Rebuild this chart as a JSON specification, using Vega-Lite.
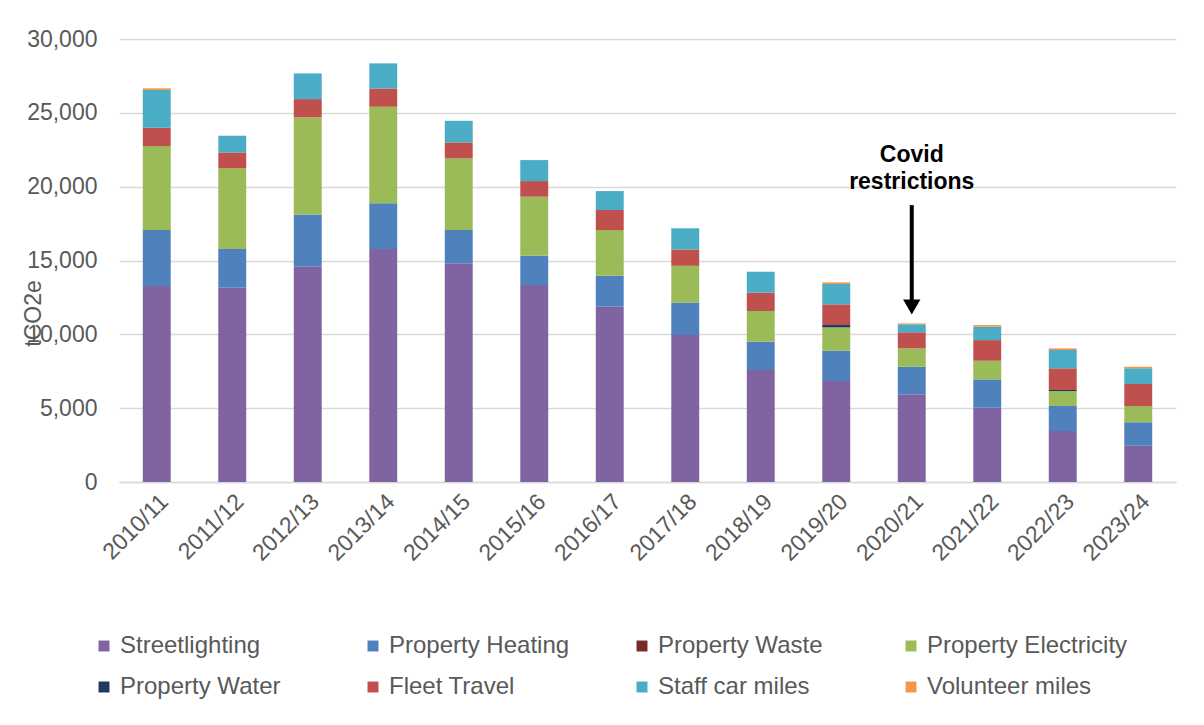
{
  "$schema": "https://vega.github.io/schema/vega-lite/v6.json",
  "width": 1057,
  "height": 443,
  "autosize": {"type": "none"},
  "padding": {"left": 119, "top": 39, "right": 28, "bottom": 243},
  "background": "white",
  "config": {
    "font": "Liberation Sans",
    "view": {"stroke": null}
  },
  "datasets": {
    "emissions": [
      {"year": "2010/11", "source": "Streetlighting", "t": 13270},
      {"year": "2010/11", "source": "Property Heating", "t": 3790},
      {"year": "2010/11", "source": "Property Electricity", "t": 5690},
      {"year": "2010/11", "source": "Fleet Travel", "t": 1240},
      {"year": "2010/11", "source": "Staff car miles", "t": 2550},
      {"year": "2010/11", "source": "Volunteer miles", "t": 120},
      {"year": "2011/12", "source": "Streetlighting", "t": 13160},
      {"year": "2011/12", "source": "Property Heating", "t": 2620},
      {"year": "2011/12", "source": "Property Electricity", "t": 5460},
      {"year": "2011/12", "source": "Fleet Travel", "t": 1080},
      {"year": "2011/12", "source": "Staff car miles", "t": 1130},
      {"year": "2012/13", "source": "Streetlighting", "t": 14580},
      {"year": "2012/13", "source": "Property Heating", "t": 3540},
      {"year": "2012/13", "source": "Property Electricity", "t": 6570},
      {"year": "2012/13", "source": "Fleet Travel", "t": 1240},
      {"year": "2012/13", "source": "Staff car miles", "t": 1740},
      {"year": "2013/14", "source": "Streetlighting", "t": 15780},
      {"year": "2013/14", "source": "Property Heating", "t": 3090},
      {"year": "2013/14", "source": "Property Electricity", "t": 6540},
      {"year": "2013/14", "source": "Fleet Travel", "t": 1240},
      {"year": "2013/14", "source": "Staff car miles", "t": 1700},
      {"year": "2014/15", "source": "Streetlighting", "t": 14810},
      {"year": "2014/15", "source": "Property Heating", "t": 2250},
      {"year": "2014/15", "source": "Property Electricity", "t": 4860},
      {"year": "2014/15", "source": "Fleet Travel", "t": 1080},
      {"year": "2014/15", "source": "Staff car miles", "t": 1460},
      {"year": "2015/16", "source": "Streetlighting", "t": 13340},
      {"year": "2015/16", "source": "Property Heating", "t": 1980},
      {"year": "2015/16", "source": "Property Electricity", "t": 4000},
      {"year": "2015/16", "source": "Fleet Travel", "t": 1060},
      {"year": "2015/16", "source": "Staff car miles", "t": 1420},
      {"year": "2016/17", "source": "Streetlighting", "t": 11870},
      {"year": "2016/17", "source": "Property Heating", "t": 2100},
      {"year": "2016/17", "source": "Property Electricity", "t": 3090},
      {"year": "2016/17", "source": "Fleet Travel", "t": 1360},
      {"year": "2016/17", "source": "Staff car miles", "t": 1280},
      {"year": "2017/18", "source": "Streetlighting", "t": 9950},
      {"year": "2017/18", "source": "Property Heating", "t": 2190},
      {"year": "2017/18", "source": "Property Electricity", "t": 2500},
      {"year": "2017/18", "source": "Fleet Travel", "t": 1110},
      {"year": "2017/18", "source": "Staff car miles", "t": 1430},
      {"year": "2018/19", "source": "Streetlighting", "t": 7580},
      {"year": "2018/19", "source": "Property Heating", "t": 1920},
      {"year": "2018/19", "source": "Property Electricity", "t": 2080},
      {"year": "2018/19", "source": "Fleet Travel", "t": 1240},
      {"year": "2018/19", "source": "Staff car miles", "t": 1420},
      {"year": "2019/20", "source": "Streetlighting", "t": 6840},
      {"year": "2019/20", "source": "Property Heating", "t": 2050},
      {"year": "2019/20", "source": "Property Electricity", "t": 1580},
      {"year": "2019/20", "source": "Property Water", "t": 160},
      {"year": "2019/20", "source": "Fleet Travel", "t": 1400},
      {"year": "2019/20", "source": "Staff car miles", "t": 1380},
      {"year": "2019/20", "source": "Volunteer miles", "t": 110},
      {"year": "2020/21", "source": "Streetlighting", "t": 5950},
      {"year": "2020/21", "source": "Property Heating", "t": 1860},
      {"year": "2020/21", "source": "Property Electricity", "t": 1240},
      {"year": "2020/21", "source": "Fleet Travel", "t": 1090},
      {"year": "2020/21", "source": "Staff car miles", "t": 540},
      {"year": "2020/21", "source": "Volunteer miles", "t": 60},
      {"year": "2021/22", "source": "Streetlighting", "t": 5030},
      {"year": "2021/22", "source": "Property Heating", "t": 1920},
      {"year": "2021/22", "source": "Property Electricity", "t": 1260},
      {"year": "2021/22", "source": "Fleet Travel", "t": 1400},
      {"year": "2021/22", "source": "Staff car miles", "t": 910},
      {"year": "2021/22", "source": "Volunteer miles", "t": 110},
      {"year": "2022/23", "source": "Streetlighting", "t": 3450},
      {"year": "2022/23", "source": "Property Heating", "t": 1700},
      {"year": "2022/23", "source": "Property Electricity", "t": 1010},
      {"year": "2022/23", "source": "Property Water", "t": 70},
      {"year": "2022/23", "source": "Fleet Travel", "t": 1470},
      {"year": "2022/23", "source": "Staff car miles", "t": 1240},
      {"year": "2022/23", "source": "Volunteer miles", "t": 110},
      {"year": "2023/24", "source": "Streetlighting", "t": 2460},
      {"year": "2023/24", "source": "Property Heating", "t": 1580},
      {"year": "2023/24", "source": "Property Electricity", "t": 1110},
      {"year": "2023/24", "source": "Fleet Travel", "t": 1490},
      {"year": "2023/24", "source": "Staff car miles", "t": 1060},
      {"year": "2023/24", "source": "Volunteer miles", "t": 110}
    ],
    "arrow": [
      {"year": "2020/21", "from": 18750, "to": 12300}
    ],
    "arrowhead": [
      {"year": "2020/21", "v": 11850}
    ],
    "label": [
      {"year": "2020/21", "v": 22140, "txt": "Covid"},
      {"year": "2020/21", "v": 20310, "txt": "restrictions"}
    ]
  },
  "layer": [
    {
      "data": {"name": "emissions"},
      "transform": [
        {"calculate": "indexof(['Streetlighting', 'Property Heating', 'Property Waste', 'Property Electricity', 'Property Water', 'Fleet Travel', 'Staff car miles', 'Volunteer miles'], datum.source)", "as": "stackOrder"}
      ],
      "mark": {"type": "bar"},
      "encoding": {
        "x": {
          "field": "year", "type": "nominal", "sort": null,
          "scale": {"paddingInner": 0.63, "paddingOuter": 0.315},
          "axis": {
            "title": null, "labelAngle": -45, "labelFontSize": 23, "labelColor": "#595959",
            "ticks": false, "domainColor": "#D9D9D9", "domainWidth": 1.5, "labelPadding": 8
          }
        },
        "y": {
          "field": "t", "type": "quantitative", "stack": "zero",
          "scale": {"domain": [0, 30000], "nice": false},
          "axis": {
            "title": "tCO2e", "titleFontSize": 23, "titleFontWeight": "normal", "titleColor": "#595959",
            "titleX": -86, "titleY": 274, "titleAlign": "center", "titleBaseline": "middle", "titleAngle": -90,
            "values": [0, 5000, 10000, 15000, 20000, 25000, 30000], "format": ",d",
            "labelFontSize": 23, "labelColor": "#595959", "labelPadding": 22,
            "ticks": false, "domain": false, "gridColor": "#D9D9D9", "gridWidth": 1.5
          }
        },
        "order": {"field": "stackOrder", "type": "quantitative", "sort": "ascending"},
        "color": {
          "field": "source", "type": "nominal",
          "scale": {
            "domain": ["Streetlighting", "Property Heating", "Property Waste", "Property Electricity", "Property Water", "Fleet Travel", "Staff car miles", "Volunteer miles"],
            "range": ["#8064A2", "#4F81BD", "#772C2A", "#9BBB59", "#1F3864", "#C0504D", "#4BACC6", "#F79646"]
          },
          "legend": {
            "title": null, "orient": "none", "legendX": -27, "legendY": 595,
            "direction": "horizontal", "columns": 4, "gridAlign": "all",
            "symbolType": "square", "symbolSize": 120, "symbolStrokeWidth": 0,
            "labelFontSize": 24, "labelColor": "#595959", "labelOffset": 4,
            "columnPadding": 40, "rowPadding": 17, "labelLimit": 300
          }
        }
      }
    },
    {
      "data": {"name": "arrow"},
      "mark": {"type": "rule", "color": "black", "strokeWidth": 4},
      "encoding": {
        "x": {"field": "year", "type": "nominal"},
        "y": {"field": "from", "type": "quantitative"},
        "y2": {"field": "to"}
      }
    },
    {
      "data": {"name": "arrowhead"},
      "mark": {"type": "point", "shape": "triangle-down", "filled": true, "color": "black", "size": 300, "opacity": 1},
      "encoding": {
        "x": {"field": "year", "type": "nominal"},
        "y": {"field": "v", "type": "quantitative"}
      }
    },
    {
      "data": {"name": "label"},
      "mark": {"type": "text", "fontSize": 23, "fontWeight": "bold", "color": "black", "baseline": "middle", "align": "center"},
      "encoding": {
        "x": {"field": "year", "type": "nominal"},
        "y": {"field": "v", "type": "quantitative"},
        "text": {"field": "txt"}
      }
    }
  ]
}
